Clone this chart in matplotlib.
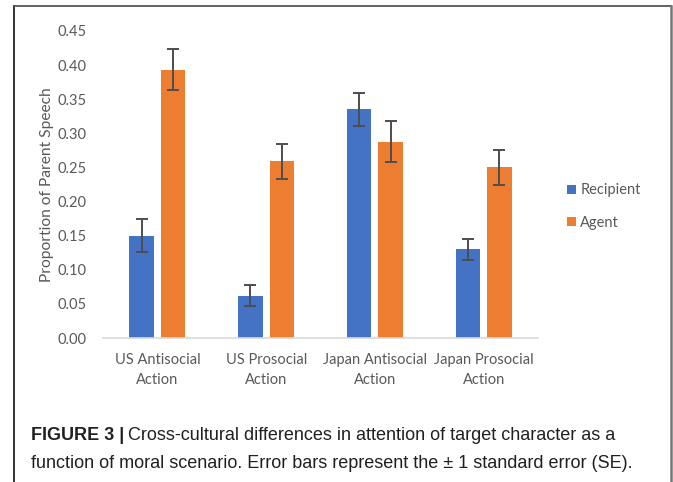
import numpy as np
import matplotlib.pyplot as plt
from matplotlib.lines import Line2D

categories = ["US Antisocial\nAction", "US Prosocial\nAction",
              "Japan Antisocial\nAction", "Japan Prosocial\nAction"]
recipient = [0.150, 0.062, 0.335, 0.130]
recipient_se = [0.024, 0.015, 0.024, 0.015]
agent = [0.393, 0.259, 0.288, 0.250]
agent_se = [0.030, 0.026, 0.030, 0.026]
yticks = [0.00, 0.05, 0.10, 0.15, 0.20, 0.25, 0.30, 0.35, 0.40, 0.45]

blue = "#4472C4"
orange = "#ED7D31"
grey = "#595959"

W, H = 673, 482
fig = plt.figure(figsize=(W / 100, H / 100), dpi=100)
ax = fig.add_axes([103 / W, (H - 338) / H, (538 - 103) / W, (338 - 31) / H])

x = np.arange(len(categories))
bw = 0.225
off = 0.145
ax.bar(x - off, recipient, bw, color=blue, label="Recipient", zorder=2)
ax.bar(x + off, agent, bw, color=orange, label="Agent", zorder=2)
ax.errorbar(x - off, recipient, yerr=recipient_se, fmt="none", ecolor="#4d4d4d",
            elinewidth=1.4, capsize=4, capthick=1.4, zorder=3)
ax.errorbar(x + off, agent, yerr=agent_se, fmt="none", ecolor="#4d4d4d",
            elinewidth=1.4, capsize=4, capthick=1.4, zorder=3)

ax.set_xlim(-0.5, 3.5)
ax.set_ylim(0, 0.45)
ax.set_yticks(yticks)
ax.set_yticklabels([f"{v:.2f}" for v in yticks])
ax.set_xticks(x)
ax.set_xticklabels(categories, linespacing=1.5)
for side in ["top", "right", "left"]:
    ax.spines[side].set_visible(False)
ax.spines["bottom"].set_color("#d9d9d9")
ax.spines["bottom"].set_linewidth(1.2)
ax.tick_params(length=0, colors=grey, labelsize=10.5)
ax.tick_params(axis="y", pad=12)
ax.tick_params(axis="x", pad=11)
for lab in ax.get_xticklabels() + ax.get_yticklabels():
    lab.set_fontfamily("Lato")
ax.set_ylabel("Proportion of Parent Speech", fontsize=11.2, color=grey,
              fontfamily="Lato", labelpad=2)

ax.legend(loc="center left", bbox_to_anchor=(554 / W, (H - 206.5) / H),
          bbox_transform=fig.transFigure, frameon=False, handlelength=0.6,
          handleheight=0.6, handletextpad=0.3, labelspacing=1.25,
          prop={"family": "Lato", "size": 10.5}, labelcolor=grey)

# frame around the figure panel
fig.add_artist(Line2D([14 / W, 14 / W], [0, (H - 6) / H], color="#222222", lw=1.3))
fig.add_artist(Line2D([14 / W, 671 / W], [(H - 6) / H, (H - 6) / H], color="#555555", lw=1.3))
fig.add_artist(Line2D([671 / W, 671 / W], [0, (H - 6) / H], color="#777777", lw=1.8))

# caption
cap_font = ["Liberation Sans Narrow", "Liberation Sans", "DejaVu Sans"]
cap_size = 13
y1 = (H - 435) / H
y2 = (H - 464) / H
bold = fig.text(31 / W, y1, "FIGURE 3 |", fontsize=cap_size, fontweight="bold",
                family=cap_font, color="#231f20", va="center")
fig.canvas.draw()
bb = bold.get_window_extent(fig.canvas.get_renderer())
fig.text(bb.x1 / W + 4 / W, y1,
         "Cross-cultural differences in attention of target character as a",
         fontsize=cap_size, family=cap_font, color="#231f20", va="center")
fig.text(31 / W, y2,
         "function of moral scenario. Error bars represent the \u00b1 1 standard error (SE).",
         fontsize=cap_size, family=cap_font, color="#231f20", va="center")

fig.savefig("out.png", dpi=100)
